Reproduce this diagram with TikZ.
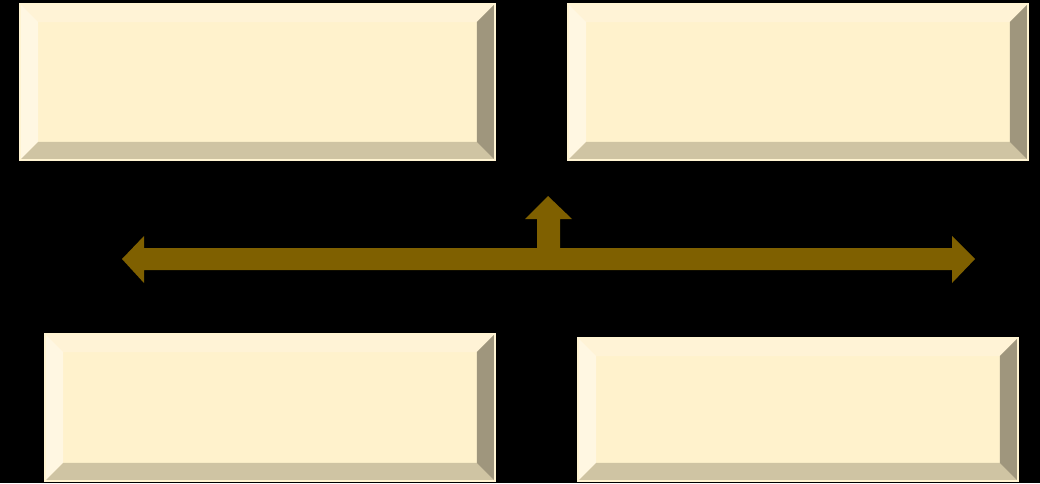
\documentclass[tikz,border=0pt]{standalone}
\usepackage{tikz}
\usetikzlibrary{positioning}

\definecolor{faceclr}{HTML}{FFF2CC}
\definecolor{topclr}{HTML}{FFF3D6}
\definecolor{leftclr}{HTML}{FFF7E2}
\definecolor{botclr}{HTML}{CFC4A3}
\definecolor{rightclr}{HTML}{9F967D}
\definecolor{rimclr}{HTML}{FFF4D2}
\definecolor{arrowclr}{HTML}{7F6000}

\begin{document}
\begin{tikzpicture}[
  x=0.02cm, y=-0.02cm,
  bevel/.style={draw=rimclr, line width=0.8pt, fill=faceclr,
                inner sep=0pt, outer sep=0pt,
                path picture={
                  \fill[topclr] (path picture bounding box.north west)
                    -- (path picture bounding box.north east)
                    -- ([shift={(-0.36cm,-0.36cm)}]path picture bounding box.north east)
                    -- ([shift={(0.36cm,-0.36cm)}]path picture bounding box.north west) -- cycle;
                  \fill[leftclr] (path picture bounding box.north west)
                    -- ([shift={(0.36cm,-0.36cm)}]path picture bounding box.north west)
                    -- ([shift={(0.36cm,0.36cm)}]path picture bounding box.south west)
                    -- (path picture bounding box.south west) -- cycle;
                  \fill[botclr] (path picture bounding box.south west)
                    -- ([shift={(0.36cm,0.36cm)}]path picture bounding box.south west)
                    -- ([shift={(-0.36cm,0.36cm)}]path picture bounding box.south east)
                    -- (path picture bounding box.south east) -- cycle;
                  \fill[rightclr] (path picture bounding box.north east)
                    -- ([shift={(-0.36cm,-0.36cm)}]path picture bounding box.north east)
                    -- ([shift={(-0.36cm,0.36cm)}]path picture bounding box.south east)
                    -- (path picture bounding box.south east) -- cycle;
                }},
  lrarrow/.style={fill=arrowclr, draw=none},
]

%% ---- background ----
\fill[black] (0,0) rectangle (1040,483);
\useasboundingbox (0,0) rectangle (1040,483);

%% ---- top row ----
\node[bevel, minimum width=9.5cm, minimum height=3.12cm] (boxTL) at (257.5,82) {};
\node[bevel, minimum width=9.2cm, minimum height=3.12cm] (boxTR) at (798,82) {};

%% ---- bottom row ----
\node[bevel, minimum width=9.0cm, minimum height=2.94cm] (boxBL) at (270,407.5) {};
\node[bevel, minimum width=8.8cm, minimum height=2.86cm] (boxBR) at (798,409.5) {};

%% ---- left-right-up arrow ----
\fill[lrarrow] (122,259) -- (144,236) -- (144,248) -- (537,248) -- (537,219)
  -- (525,219) -- (548,196) -- (572,219) -- (560,219) -- (560,248)
  -- (952,248) -- (952,236) -- (975,259) -- (952,283) -- (952,270)
  -- (144,270) -- (144,283) -- cycle;

\end{tikzpicture}
\end{document}
